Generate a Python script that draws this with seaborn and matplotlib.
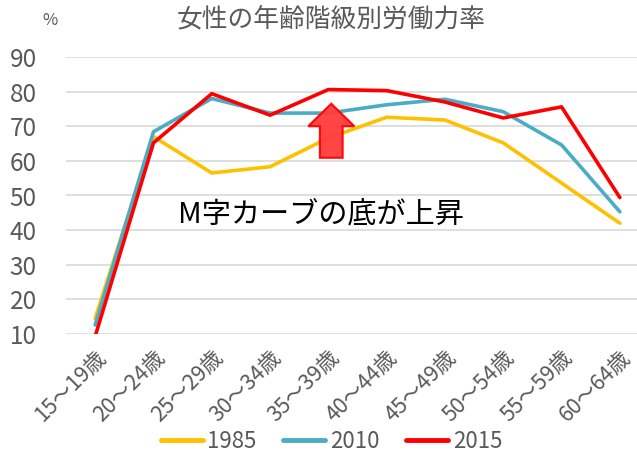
import matplotlib
matplotlib.use('Agg')
import matplotlib.pyplot as plt
import matplotlib.patches as mpatches
import pandas as pd
import seaborn as sns

ages = ["15～19歳", "20～24歳", "25～29歳", "30～34歳", "35～39歳",
        "40～44歳", "45～49歳", "50～54歳", "55～59歳", "60～64歳"]
years = ["1985", "2010", "2015"]
rate_1985 = [14.5, 67.0, 56.5, 58.3, 66.6, 72.6, 71.8, 65.2, 53.6, 42.0]
rate_2010 = [12.6, 68.4, 78.0, 73.8, 73.8, 76.2, 77.8, 74.2, 64.6, 45.3]
rate_2015 = [9.3, 65.2, 79.4, 73.2, 80.6, 80.3, 77.0, 72.4, 75.6, 49.4]
colors = ["#FFC000", "#4BACC6", "#FF0000"]

title = "女性の年齢階級別労働力率"
note = "M字カーブの底が上昇"

rows = []
for yr, vals in zip(years, [rate_1985, rate_2010, rate_2015]):
    for a, v in zip(ages, vals):
        rows.append({"age": a, "rate": v, "year": yr})
df = pd.DataFrame(rows)

sns.set_style("white")
plt.rcParams['font.family'] = ['Noto Sans CJK JP', 'DejaVu Sans']

fig = plt.figure(figsize=(6.37, 4.55), dpi=100)
ax = fig.add_axes([66 / 637, 121 / 455, 583 / 637, 277 / 455])

sns.lineplot(data=df, x="age", y="rate", hue="year", palette=colors,
             linewidth=2.6, sort=False, ax=ax, legend=False)

ax.set_xlim(-0.5, 9.5)
ax.set_ylim(10, 90)
ax.set_yticks(range(10, 91, 10))
ax.yaxis.grid(True, color="#D9D9D9", linewidth=1.2)
ax.set_axisbelow(True)
for s in ax.spines.values():
    s.set_visible(False)
ax.set_xlabel("")
ax.set_ylabel("")
ax.tick_params(axis="y", labelsize=17.5, colors="#595959", length=0, pad=21)
ax.tick_params(axis="x", labelsize=15.5, colors="#595959", length=0, pad=9)
plt.setp(ax.get_xticklabels(), rotation=45, ha="right", rotation_mode="anchor")

# block arrow
arrow = mpatches.FancyArrow(4.05, 60.9, 0, 15.6, width=0.39, head_width=0.79,
                            head_length=6.5, length_includes_head=True,
                            facecolor="#FF3B3B", edgecolor="#FF0000",
                            linewidth=1.5, alpha=0.95, zorder=5)
ax.add_patch(arrow)

ax.text(3.87, 44.4, note, fontsize=21, color="black", va="center", ha="center")

fig.text(0.52, 0.958, title, fontsize=18.5, color="#595959", ha="center", va="center")
fig.text(0.078, 0.955, "%", fontsize=12, color="#595959", ha="center", va="center")

handles = [plt.Line2D([0], [0], color=c, linewidth=3.5) for c in colors]
fig.legend(handles, years, loc="center", bbox_to_anchor=(0.52, 0.03), ncol=3,
           frameon=False, fontsize=16, handlelength=1.9, handletextpad=0.2,
           columnspacing=1.2, labelcolor="#595959")

fig.savefig("out.png", dpi=100)
